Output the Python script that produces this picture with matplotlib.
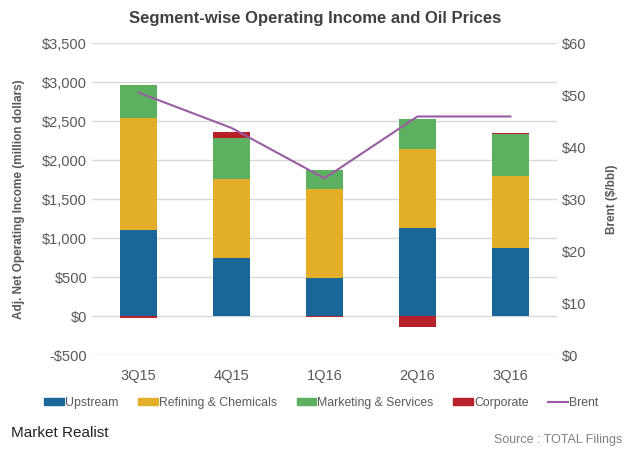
import matplotlib.pyplot as plt
import numpy as np
from matplotlib.patches import Patch
from matplotlib.lines import Line2D

plt.rcParams['font.family'] = ['Liberation Sans', 'DejaVu Sans']

quarters = ["3Q15", "4Q15", "1Q16", "2Q16", "3Q16"]
upstream = [1100, 750, 490, 1130, 875]
refining = [1440, 1010, 1140, 1010, 925]
marketing = [420, 525, 240, 385, 535]
corporate = [-20, 75, -15, -140, 15]
brent = [50.5, 43.7, 34.0, 45.9, 45.9]

c_up = "#1b6699"
c_ref = "#e3ae28"
c_mkt = "#5cb060"
c_corp = "#b8202a"
c_brent = "#9a5ca3"
txt = "#595959"

fig = plt.figure(figsize=(6.3, 4.5), dpi=100)
ax = fig.add_axes([0.146, 0.211, 0.738, 0.693])

x = np.arange(len(quarters))
w = 0.4
up = np.array(upstream)
ref = np.array(refining)
mkt = np.array(marketing)
corp = np.array(corporate)

ax.bar(x, up, w, color=c_up, zorder=2)
ax.bar(x, ref, w, bottom=up, color=c_ref, zorder=2)
ax.bar(x, mkt, w, bottom=up + ref, color=c_mkt, zorder=2)
# corporate: positive on top of the stack, negative below zero
corp_bottom = np.where(corp >= 0, up + ref + mkt, 0)
ax.bar(x, corp, w, bottom=corp_bottom, color=c_corp, zorder=2)

ax.set_ylim(-500, 3500)
ax.set_yticks(range(-500, 3501, 500))
ax.set_yticklabels([("-$" if v < 0 else "$") + f"{abs(v):,}" for v in range(-500, 3501, 500)])
ax.set_xlim(-0.5, 4.5)
ax.set_xticks(x)
ax.set_xticklabels(quarters)
ax.grid(axis="y", color="#d9d9d9", linewidth=1, zorder=0)
for s in ax.spines.values():
    s.set_visible(False)
ax.tick_params(length=0, colors=txt, labelsize=10.5)
ax.tick_params(axis="x", pad=10)
ax.set_ylabel("Adj. Net Operating Income (million dollars)", fontsize=8.5, fontweight="bold", color=txt, labelpad=12)

ax2 = ax.twinx()
ax2.plot(x, brent, color=c_brent, linewidth=1.5, zorder=3)
ax2.set_ylim(0, 60)
ax2.set_yticks(range(0, 61, 10))
ax2.set_yticklabels([f"${v}" for v in range(0, 61, 10)])
for s in ax2.spines.values():
    s.set_visible(False)
ax2.tick_params(length=0, colors=txt, labelsize=10.5)
ax2.set_ylabel("Brent ($/bbl)", fontsize=8.5, fontweight="bold", color=txt, labelpad=14)

fig.text(0.5, 0.958, "Segment-wise Operating Income and Oil Prices", ha="center", va="center",
         fontsize=12, fontweight="bold", color="#404040")

handles = [Patch(color=c_up), Patch(color=c_ref), Patch(color=c_mkt), Patch(color=c_corp),
           Line2D([], [], color=c_brent, linewidth=1.5)]
labels = ["Upstream", "Refining & Chemicals", "Marketing & Services", "Corporate", "Brent"]
fig.legend(handles, labels, loc="center", bbox_to_anchor=(0.51, 0.104), ncol=5, frameon=False,
           fontsize=8.8, handlelength=1.6, handleheight=0.5, handletextpad=0.1, columnspacing=1.6,
           labelcolor=txt)

fig.text(0.018, 0.038, "Market Realist", fontsize=11, color="#222222", va="center")
fig.text(0.988, 0.022, "Source : TOTAL Filings", fontsize=9, color="#808080", ha="right", va="center")

fig.savefig("out.png", dpi=100)
